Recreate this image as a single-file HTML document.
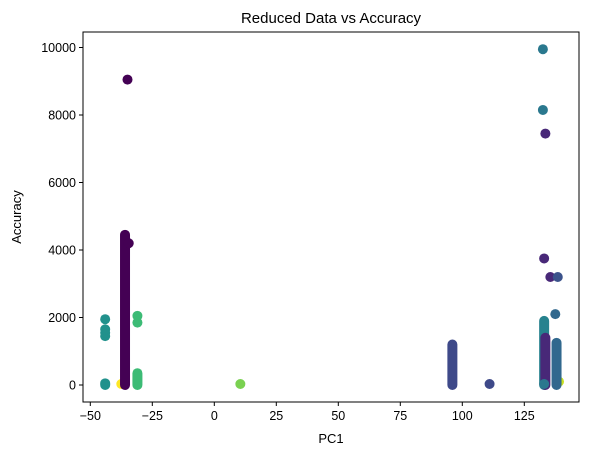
<!DOCTYPE html>
<html><head><meta charset="utf-8"><style>
body{margin:0;background:#fff;width:589px;height:455px;overflow:hidden}
svg text{font-family:"Liberation Sans","DejaVu Sans",sans-serif;fill:#000}
</style></head><body>
<svg id="chart" width="589" height="455" xmlns="http://www.w3.org/2000/svg">
<rect x="83" y="32" width="496" height="370" fill="#fff"/>
<g id="under"></g>
<g id="marks"></g>
<rect x="83" y="32" width="496" height="370" fill="none" stroke="#000" stroke-width="1"/>
<g id="xt"></g>
<g id="yt"></g>
<text x="331" y="23" font-size="15" text-anchor="middle">Reduced Data vs Accuracy</text>
<text x="331" y="443" font-size="13" text-anchor="middle">PC1</text>
<text transform="translate(21,217) rotate(-90)" font-size="13" text-anchor="middle">Accuracy</text>
</svg>
<script>
// column segments: x, y0, y1, color
const colX=[-44,-36,-31,96,133,133.5,138];
const colY0=[0,0,0,0,0,0,0];
const colY1=[50,4450,350,1200,1900,1400,1250];
const colC=["#21918c","#440154","#3cbb75","#3e4989","#26828e","#482878","#31688e"];
// individual points
const ptX=[-44,-44,-44,-44,-35,-34.5,-31,-31,10.5,111,132.5,132.5,133.5,133,135.5,138.5,137.5,133];
const ptY=[1450,1550,1650,1950,9050,4200,1850,2050,30,30,9950,8150,7450,3750,3200,3200,2100,30];
const ptC=["#21918c","#21918c","#21918c","#21918c","#440154","#440154","#3cbb75","#3cbb75","#7ad151","#3e4989","#2a788e","#2a788e","#482878","#482878","#482878","#3b528b","#31688e","#2a788e"];
// points drawn beneath the columns
const bgX=[-37.5,139];
const bgY=[30,100];
const bgC=["#fde725","#c8e020"];
const xTicks=[-50,-25,0,25,50,75,100,125];
const yTicks=[0,2000,4000,6000,8000,10000];
const sx=v=>214.3+v*2.48, sy=v=>385-v*0.03375;
const NS="http://www.w3.org/2000/svg";
const m=document.getElementById('marks');
const u=document.getElementById('under');
bgX.forEach((x,i)=>{const c=document.createElementNS(NS,'circle');


c.setAttribute('cx',sx(x));c.setAttribute('cy',sy(bgY[i]));c.setAttribute('r',5);c.setAttribute('fill',bgC[i]);u.appendChild(c);});
colX.forEach((x,i)=>{const l=document.createElementNS(NS,'line');


l.setAttribute('x1',sx(x));l.setAttribute('x2',sx(x));l.setAttribute('y1',sy(colY0[i]));l.setAttribute('y2',sy(colY1[i]));
l.setAttribute('stroke',colC[i]);l.setAttribute('stroke-width',10);l.setAttribute('stroke-linecap','round');m.appendChild(l);});
ptX.forEach((x,i)=>{const c=document.createElementNS(NS,'circle');


c.setAttribute('cx',sx(x));c.setAttribute('cy',sy(ptY[i]));c.setAttribute('r',5);c.setAttribute('fill',ptC[i]);m.appendChild(c);});
const xt=document.getElementById('xt');
xTicks.forEach(t=>{const x=sx(t);const l=document.createElementNS(NS,'line');


l.setAttribute('x1',x);l.setAttribute('x2',x);l.setAttribute('y1',402);l.setAttribute('y2',406);l.setAttribute('stroke','#000');xt.appendChild(l);
const s=document.createElementNS(NS,'text');


s.setAttribute('x',x);s.setAttribute('y',420);s.setAttribute('font-size',12.5);s.setAttribute('text-anchor','middle');s.textContent=t<0?'\u2212'+(-t):t;xt.appendChild(s);});
const yt=document.getElementById('yt');
yTicks.forEach(t=>{const y=sy(t);const l=document.createElementNS(NS,'line');


l.setAttribute('x1',79);l.setAttribute('x2',83);l.setAttribute('y1',y);l.setAttribute('y2',y);l.setAttribute('stroke','#000');yt.appendChild(l);
const s=document.createElementNS(NS,'text');


s.setAttribute('x',76);s.setAttribute('y',y+4.5);s.setAttribute('font-size',12.5);s.setAttribute('text-anchor','end');s.textContent=t;yt.appendChild(s);});
</script>
</body></html>
